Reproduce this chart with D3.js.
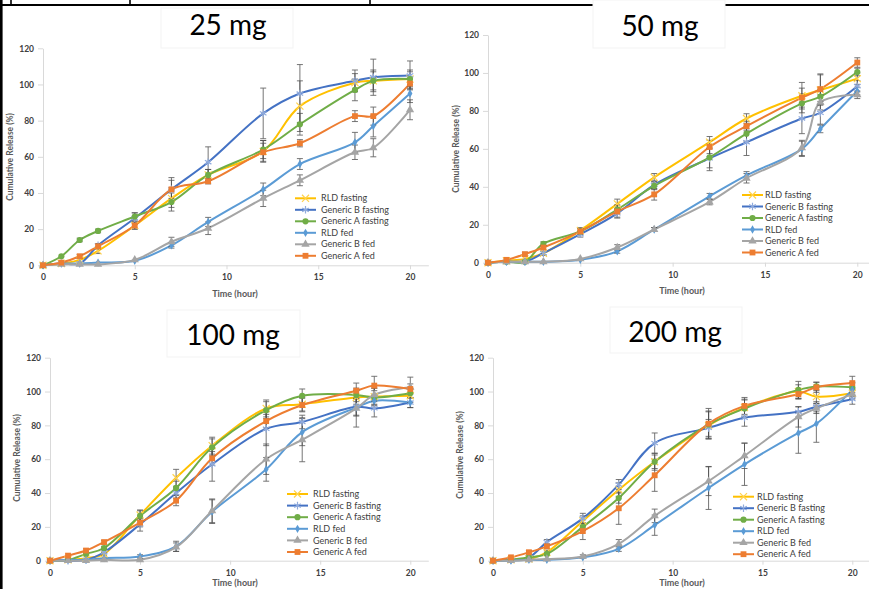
<!DOCTYPE html>
<html>
<head>
<meta charset="utf-8">
<script src="https://cdn.jsdelivr.net/npm/d3@7"></script>
<style>
  html, body { margin: 0; padding: 0; background: #fff; }
  svg { display: block; }
</style>
</head>
<body>
<div id="chart"></div>
<script>
// time points (hour)
const hours = [0, 1, 2, 3, 5, 7, 9, 12, 14, 17, 18, 20];
const seriesNames = ["RLD fasting", "Generic B fasting", "Generic A fasting", "RLD fed", "Generic B fed", "Generic A fed"];
const doseTitles = ["25 mg", "50 mg", "100 mg", "200 mg"];
const xTicks = [0, 5, 10, 15, 20];
const yTicks = [0, 20, 40, 60, 80, 100, 120];

// cumulative release (%) — rows follow seriesNames
const release25 = [
    [0, 1, 3, 8, 22, 37, 50, 63, 88, 101, 102, 103],
    [0, 1, 1, 11, 26, 42, 57, 84, 95, 102, 104, 105],
    [0, 5, 14, 19, 27, 35, 50, 64, 78, 97, 102, 103],
    [0, 1, 1, 1.5, 2.5, 11, 24, 42, 56, 68, 77, 95],
    [0, 0.5, 0.5, 0.5, 3, 13, 20.5, 37, 47, 62.5, 65, 86],
    [0, 1.5, 5, 10.5, 22, 42, 46.5, 62.5, 67.5, 82.5, 82.5, 100.5]
];
const sd25 = [
    [0, 0.5, 1, 1.5, 2, 5, 3, 6, 14, 5, 6, 5],
    [0, 0.5, 0.5, 1, 3, 5, 8.5, 14, 16, 6, 10, 8],
    [0, 0.5, 1, 1, 2, 5, 3, 5, 6, 6, 5, 4],
    [0, 0.3, 0.3, 0.5, 0.5, 1.5, 2.5, 3.5, 3, 5.5, 6, 5],
    [0, 0.3, 0.3, 0.5, 0.5, 2.5, 3.5, 4.5, 3, 4, 5, 5.5],
    [0, 0.5, 1, 1.5, 2, 6.5, 1.5, 5, 2, 3, 5, 3]
];
const release50 = [
    [0, 1, 2, 5, 17, 31, 45, 63.5, 76, 88, 91, 97],
    [0, 0.5, 0.5, 5, 15, 26, 41, 55, 63.5, 76, 79, 93],
    [0, 0.5, 0.5, 10, 16.5, 28, 40.5, 55.5, 68, 84, 87.5, 100.5],
    [0, 0.5, 0.5, 0.5, 1.5, 6, 17.5, 35, 46, 60, 70.5, 90.5],
    [0, 0.5, 0.5, 0.5, 2, 8, 17.5, 32, 44.5, 60.5, 84.5, 88.5],
    [0, 1.5, 4.5, 8, 16.5, 27, 36, 61, 72, 87, 91.5, 105.5]
];
const sd50 = [
    [0, 0.5, 0.5, 1, 1.5, 2.5, 2, 3, 2.5, 7, 8, 3],
    [0, 0.3, 0.3, 1, 1.5, 2, 2, 5, 7, 8, 6, 3],
    [0, 0.3, 0.3, 1, 1.5, 2, 2, 7, 4, 5, 4, 2],
    [0, 0.3, 0.3, 0.3, 0.5, 1, 1, 1.5, 2, 4, 2, 2],
    [0, 0.3, 0.3, 0.3, 0.5, 1.5, 1, 1.5, 2.5, 4, 4, 2],
    [0, 0.5, 1, 1, 1.5, 3.5, 3, 3.5, 2.5, 5, 8, 2.5]
];
const release100 = [
    [0, 0.5, 1.5, 4, 27, 49, 68, 90, 92.5, 96.5, 97, 97.5],
    [0, 0, 0.5, 5, 21.5, 40, 57, 78, 82, 91, 90, 93.5],
    [0, 0.5, 4, 7.5, 26.5, 43, 67, 89, 97.5, 98, 96.5, 99],
    [0, 0.5, 0.5, 1.5, 2.5, 8.5, 29, 54, 76, 90.5, 94.5, 93.5],
    [0, 0, 0, 0.5, 0.5, 8, 29.5, 60, 71.5, 90, 98, 102.5],
    [0, 3, 6, 11, 22.5, 35.5, 60.5, 82.5, 92, 100.5, 103.5, 101.5]
];
const sd100 = [
    [0, 0.3, 0.5, 1, 3, 5, 5, 5, 4, 4, 5, 4],
    [0, 0.3, 0.3, 1, 4, 3, 10, 10, 4, 5, 5, 3],
    [0, 0.3, 1, 1, 3, 4, 5, 5, 4, 4, 4, 3],
    [0, 0.3, 0.3, 0.5, 1, 3, 7, 7, 8, 5, 3, 3],
    [0, 0.3, 0.3, 0.3, 0.5, 2.5, 7, 9, 13, 11, 4, 6],
    [0, 0.5, 1, 1, 2.5, 3, 4, 4, 4, 4.5, 5.5, 3]
];
const release200 = [
    [0, 0.5, 1, 5, 23.5, 42, 58.5, 80, 90.5, 100, 97, 99],
    [0, 0.5, 2, 11, 25, 45, 69.5, 78.5, 84.5, 88, 91, 95.5],
    [0, 0.5, 2, 4, 20, 37, 58.5, 80.5, 90, 101, 103, 102.5],
    [0, 0, 0.5, 0.5, 2, 7, 21, 43, 57, 75.5, 81, 101],
    [0, 0, 0.5, 1, 2.5, 10, 26.5, 47, 62, 85, 90, 98.5],
    [0, 2, 5, 8.5, 17.5, 31, 50.5, 81, 91.5, 98.5, 102.5, 105]
];
const sd200 = [
    [0, 0.3, 0.5, 1, 3, 4, 5, 8, 5, 4, 4, 3],
    [0, 0.3, 0.5, 1.5, 3, 3, 6, 5, 5, 3, 3, 3],
    [0, 0.3, 0.5, 1, 2, 3, 4, 8, 5, 5, 2.5, 3],
    [0, 0.3, 0.3, 0.3, 0.5, 1.5, 6, 12.7, 12.5, 12, 11, 4],
    [0, 0.3, 0.3, 0.3, 1, 2.5, 4, 8.5, 7.5, 6, 3, 3],
    [0, 0.5, 1, 1.5, 5, 9.5, 9.5, 9, 5, 3, 3, 4]
];

// màu + marker theo Excel
const colors = ["#FFC000", "#4472C4", "#70AD47", "#5B9BD5", "#A5A5A5", "#ED7D31"];
const markerColors = ["#FFD24D", "#8FAADC", "#70AD47", "#5B9BD5", "#A5A5A5", "#ED7D31"];
const markerTypes = [d3.symbolTimes, d3.symbolAsterisk, d3.symbolCircle, d3.symbolDiamond, d3.symbolTriangle, d3.symbolSquare];
const markerSizes = [34, 40, 30, 20, 30, 34];
const markerStroked = [true, true, false, false, false, false];

// vị trí 4 panel
const panels = [
    { release: release25, sd: sd25, x0: 43, x20: 410, y0: 265.3, y120: 48.3,
      title: [228, 35], box: [161, 8, 132, 40], yTitle: [10, 157], xTitle: [235, 297], legend: [295, 321, 198.3, 11.5] },
    { release: release50, sd: sd50, x0: 488, x20: 857.3, y0: 262.7, y120: 35,
      title: [660, 36], box: [593, 0, 132, 48], yTitle: [456, 149], xTitle: [682, 294], legend: [742, 765, 195, 11.5] },
    { release: release100, sd: sd100, x0: 50, x20: 410.3, y0: 560.7, y120: 357.7,
      title: [233, 345], box: [167, 310, 133, 47], yTitle: [17, 458], xTitle: [235, 586], legend: [287, 313, 494, 11.6] },
    { release: release200, sd: sd200, x0: 493, x20: 852.3, y0: 560.7, y120: 357.7,
      title: [675, 342], box: [610, 307, 132, 46], yTitle: [460, 455], xTitle: [682, 586], legend: [733, 757, 496.7, 11.5] }
];

const svg = d3.select("#chart").append("svg")
    .attr("width", 869)
    .attr("height", 589);

// khung bảng phía trên
svg.append("line").attr("x1", 0).attr("x2", 869).attr("y1", 5).attr("y2", 5)
    .attr("stroke", "#000").attr("stroke-width", 2.2);
svg.append("line").attr("x1", 1.3).attr("x2", 1.3).attr("y1", 0).attr("y2", 589)
    .attr("stroke", "#000").attr("stroke-width", 2.6);
[11, 130, 370].forEach(x => {
    svg.append("line").attr("x1", x).attr("x2", x).attr("y1", 0).attr("y2", 5)
        .attr("stroke", "#000").attr("stroke-width", 1.6);
});

const tickFont = "Lato, 'Liberation Sans', sans-serif";

panels.forEach((p, pi) => {
    const unit = (p.x20 - p.x0) / 20;
    const x = d3.scaleLinear().domain([0, 21]).range([p.x0, p.x0 + 21 * unit]);
    const y = d3.scaleLinear().domain([0, 120]).range([p.y0, p.y120]);
    const g = svg.append("g");

    // title box + title
    g.append("rect")
        .attr("x", p.box[0]).attr("y", p.box[1])
        .attr("width", p.box[2]).attr("height", p.box[3])
        .attr("fill", "#fff").attr("stroke", "#f3f3f3");
    g.append("text")
        .attr("x", p.title[0]).attr("y", p.title[1])
        .attr("text-anchor", "middle")
        .style("font-family", "Lato, 'Open Sans', sans-serif")
        .style("font-size", "28px")
        .attr("fill", "#000")
        .text(doseTitles[pi]);

    // trục X
    const xAxis = g.append("g")
        .attr("transform", `translate(0,${p.y0})`)
        .call(d3.axisBottom(x).tickValues(xTicks).tickSize(4).tickSizeOuter(0).tickPadding(5));
    xAxis.select(".domain").attr("stroke", "#d9d9d9");
    xAxis.selectAll(".tick line").attr("stroke", "#d9d9d9");
    xAxis.selectAll("text")
        .attr("fill", "#404040")
        .style("font-family", tickFont).style("font-size", "8.5px").style("font-weight", "bold");

    // trục Y
    const yAxis = g.append("g")
        .attr("transform", `translate(${p.x0},0)`)
        .call(d3.axisLeft(y).tickValues(yTicks).tickSize(5).tickSizeOuter(0).tickPadding(4));
    yAxis.select(".domain").attr("stroke", "#d9d9d9");
    yAxis.selectAll(".tick line").attr("stroke", "#d9d9d9");
    yAxis.selectAll("text")
        .attr("fill", "#404040")
        .style("font-family", tickFont).style("font-size", "8.5px").style("font-weight", "bold");

    // tên trục
    g.append("text")
        .attr("transform", `translate(${p.yTitle[0]},${p.yTitle[1]}) rotate(-90)`)
        .attr("text-anchor", "middle").attr("dy", "0.35em")
        .attr("fill", "#595959")
        .style("font-family", tickFont).style("font-size", "8.5px").style("font-weight", "bold")
        .text("Cumulative Release (%)");
    g.append("text")
        .attr("x", p.xTitle[0]).attr("y", p.xTitle[1])
        .attr("text-anchor", "middle")
        .attr("fill", "#595959")
        .style("font-family", tickFont).style("font-size", "9px").style("font-weight", "bold")
        .text("Time (hour)");

    const line = d3.line()
        .x(d => x(d.t))
        .y(d => y(d.v))
        .curve(d3.curveCatmullRom.alpha(0.5));

    const series = p.release.map((vals, si) => vals.map((v, i) => ({ t: hours[i], v: v, e: p.sd[si][i] })));

    // đường
    series.forEach((pts, si) => {
        g.append("path")
            .datum(pts)
            .attr("fill", "none")
            .attr("stroke", colors[si])
            .attr("stroke-width", 2)
            .attr("d", line);
    });

    // error bars
    series.forEach((pts, si) => {
        const eb = g.append("g").attr("stroke", "#4d4d4d").attr("stroke-width", 0.9).attr("opacity", 0.85);
        pts.filter(d => d.e > 0.6).forEach(d => {
            const cx = x(d.t);
            eb.append("line").attr("x1", cx).attr("x2", cx).attr("y1", y(d.v - d.e)).attr("y2", y(d.v + d.e));
            eb.append("line").attr("x1", cx - 3).attr("x2", cx + 3).attr("y1", y(d.v - d.e)).attr("y2", y(d.v - d.e));
            eb.append("line").attr("x1", cx - 3).attr("x2", cx + 3).attr("y1", y(d.v + d.e)).attr("y2", y(d.v + d.e));
        });
    });

    // markers
    series.forEach((pts, si) => {
        const sym = d3.symbol().type(markerTypes[si]).size(markerSizes[si]);
        g.selectAll(null)
            .data(pts)
            .enter()
            .append("path")
            .attr("transform", d => `translate(${x(d.t)},${y(d.v)})`)
            .attr("d", sym)
            .attr("fill", markerStroked[si] ? "none" : markerColors[si])
            .attr("stroke", markerStroked[si] ? markerColors[si] : "none")
            .attr("stroke-width", 1.2);
    });

    // legend
    const [lx, tx, ly, step] = p.legend;
    seriesNames.forEach((name, si) => {
        const yy = ly + si * step;
        g.append("line")
            .attr("x1", lx).attr("x2", lx + 21).attr("y1", yy).attr("y2", yy)
            .attr("stroke", colors[si]).attr("stroke-width", 2);
        g.append("path")
            .attr("transform", `translate(${lx + 10.5},${yy})`)
            .attr("d", d3.symbol().type(markerTypes[si]).size(markerSizes[si])())
            .attr("fill", markerStroked[si] ? "none" : markerColors[si])
            .attr("stroke", markerStroked[si] ? markerColors[si] : "none")
            .attr("stroke-width", 1.2);
        g.append("text")
            .attr("x", tx).attr("y", yy).attr("dy", "0.35em")
            .attr("fill", "#404040")
            .style("font-family", tickFont).style("font-size", "9px")
            .text(name);
    });
});
</script>
</body>
</html>
